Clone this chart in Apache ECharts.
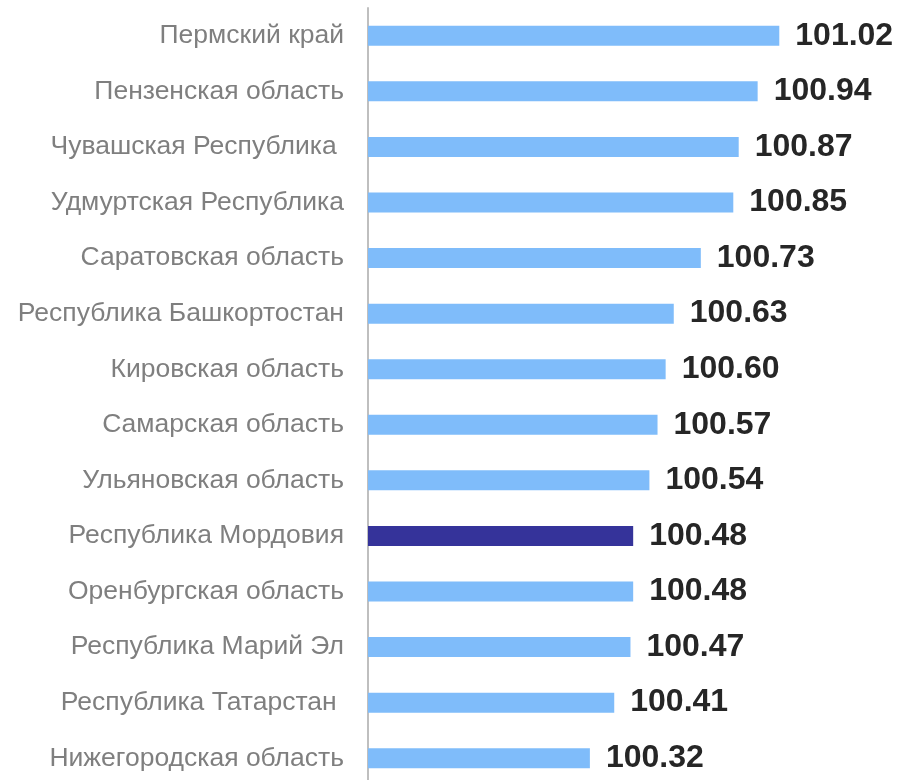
<!DOCTYPE html>
<html>
<head>
<meta charset="utf-8">
<script src="https://cdn.jsdelivr.net/npm/echarts@6/dist/echarts.min.js"></script>
<style>
  html, body { margin: 0; padding: 0; background: #fff; }
  #chart { width: 897px; height: 780px; }
</style>
</head>
<body>
<div id="chart"></div>
<script>
// регионы, сверху вниз
const regions = [
  'Пермский край',
  'Пензенская область',
  'Чувашская Республика ',
  'Удмуртская Республика',
  'Саратовская область',
  'Республика Башкортостан',
  'Кировская область',
  'Самарская область',
  'Ульяновская область',
  'Республика Мордовия',
  'Оренбургская область',
  'Республика Марий Эл',
  'Республика Татарстан ',
  'Нижегородская область'
];
const values = [101.02, 100.94, 100.87, 100.85, 100.73, 100.63, 100.60, 100.57, 100.54, 100.48, 100.48, 100.47, 100.41, 100.32];
const highlight = 'Республика Мордовия';

const chart = echarts.init(document.getElementById('chart'));
chart.setOption({
  animation: false,
  grid: { left: 368, right: 69, top: 8, height: 778, containLabel: false, outerBoundsMode: 'none' },
  xAxis: {
    type: 'value',
    min: 99.5,
    max: 101.2,
    show: false
  },
  yAxis: {
    type: 'category',
    inverse: true,
    data: regions,
    axisLine: { show: true, lineStyle: { color: '#BFBFBF', width: 2 } },
    axisTick: { show: false },
    axisLabel: {
      color: '#7F7F7F',
      fontSize: 26.5,
      fontFamily: 'Liberation Sans, Arial, sans-serif',
      margin: 24
    }
  },
  series: [{
    type: 'bar',
    barWidth: 20,
    data: values.map((v, i) => ({
      value: v,
      itemStyle: { color: regions[i] === highlight ? '#35339A' : '#7FBCFA' }
    })),
    label: {
      show: true,
      position: 'right',
      distance: 16,
      color: '#262626',
      fontSize: 32,
      fontWeight: 'bold',
      fontFamily: 'Liberation Sans, Arial, sans-serif',
      formatter: p => p.value.toFixed(2)
    }
  }]
});
</script>
</body>
</html>
